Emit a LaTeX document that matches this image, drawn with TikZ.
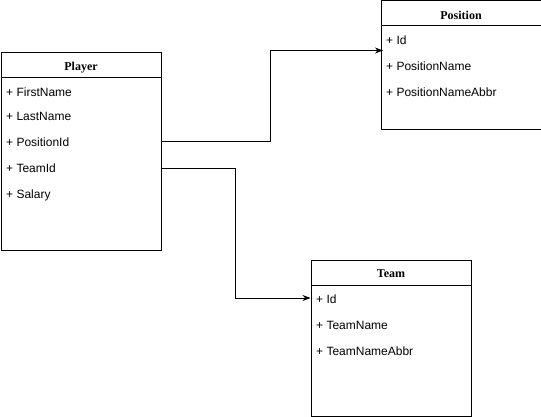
\documentclass[tikz,border=0pt]{standalone}
\usepackage{fontspec}
\setmainfont{Liberation Sans}
\newfontfamily\titlefont{Liberation Serif}
\usetikzlibrary{arrows.meta,calc}
\begin{document}
\begin{tikzpicture}[x=1pt,y=-1pt,
  entity/.style={draw,line width=1pt,inner sep=0pt,anchor=north west,minimum width=160pt},
  etitle/.style={font=\titlefont\bfseries\fontsize{12}{14}\selectfont,inner sep=0pt},
  attr/.style={font=\fontsize{12}{14}\selectfont,inner sep=0pt,anchor=west},
  sep/.style={line width=1pt},
  conn/.style={line width=1pt,-{Stealth[length=8pt,width=6pt,inset=2.5pt]}}]
\useasboundingbox (0,0) rectangle (541,417);
% Player
\node[entity,minimum height=197pt] (player) at (0.5,52.5) {};
\draw[sep] ($(player.north west)+(0,25.5)$) -- ($(player.north east)+(0,25.5)$);
\node[etitle] (ptitle) at ($(player.north)+(0,15.5)$) {Player};
\node[attr] (pfn) at ($(player.north west)+(5.5,40)$) {+ FirstName};
\node[attr] (pln) at ($(player.north west)+(5.5,64)$) {+ LastName};
\node[attr] (ppid) at ($(player.north west)+(5.5,89.5)$) {+ PositionId};
\node[attr] (ptid) at ($(player.north west)+(5.5,116)$) {+ TeamId};
\node[attr] (psal) at ($(player.north west)+(5.5,142.5)$) {+ Salary};
% Position
\node[entity,minimum height=129pt] (position) at (380.5,0.5) {};
\draw[sep] ($(position.north west)+(0,25.5)$) -- ($(position.north east)+(0,25.5)$);
\node[etitle] (postitle) at ($(position.north)+(0,15)$) {Position};
\node[attr] (posid) at ($(position.north west)+(5.5,40)$) {+ Id};
\node[attr] (posname) at ($(position.north west)+(5.5,66)$) {+ PositionName};
\node[attr] (posabbr) at ($(position.north west)+(5.5,91.5)$) {+ PositionNameAbbr};
% Team
\node[entity,minimum height=156pt] (team) at (310.5,259.5) {};
\draw[sep] ($(team.north west)+(0,25.5)$) -- ($(team.north east)+(0,25.5)$);
\node[etitle] (ttitle) at ($(team.north)+(0,14.5)$) {Team};
\node[attr] (tid) at ($(team.north west)+(5.5,39.5)$) {+ Id};
\node[attr] (tname) at ($(team.north west)+(5.5,66)$) {+ TeamName};
\node[attr] (tabbr) at ($(team.north west)+(5.5,92)$) {+ TeamNameAbbr};
% connectors
\coordinate (b1) at (270.5,50.5);
\coordinate (b2) at (235.5,298);
\draw[conn] ($(player.east |- ppid)+(0,0)$) -| (b1) -- ($(position.west |- b1)+(2.5,0)$);
\draw[conn] (player.east |- ptid) -| (b2) -- (team.west |- b2);
\end{tikzpicture}
\end{document}
